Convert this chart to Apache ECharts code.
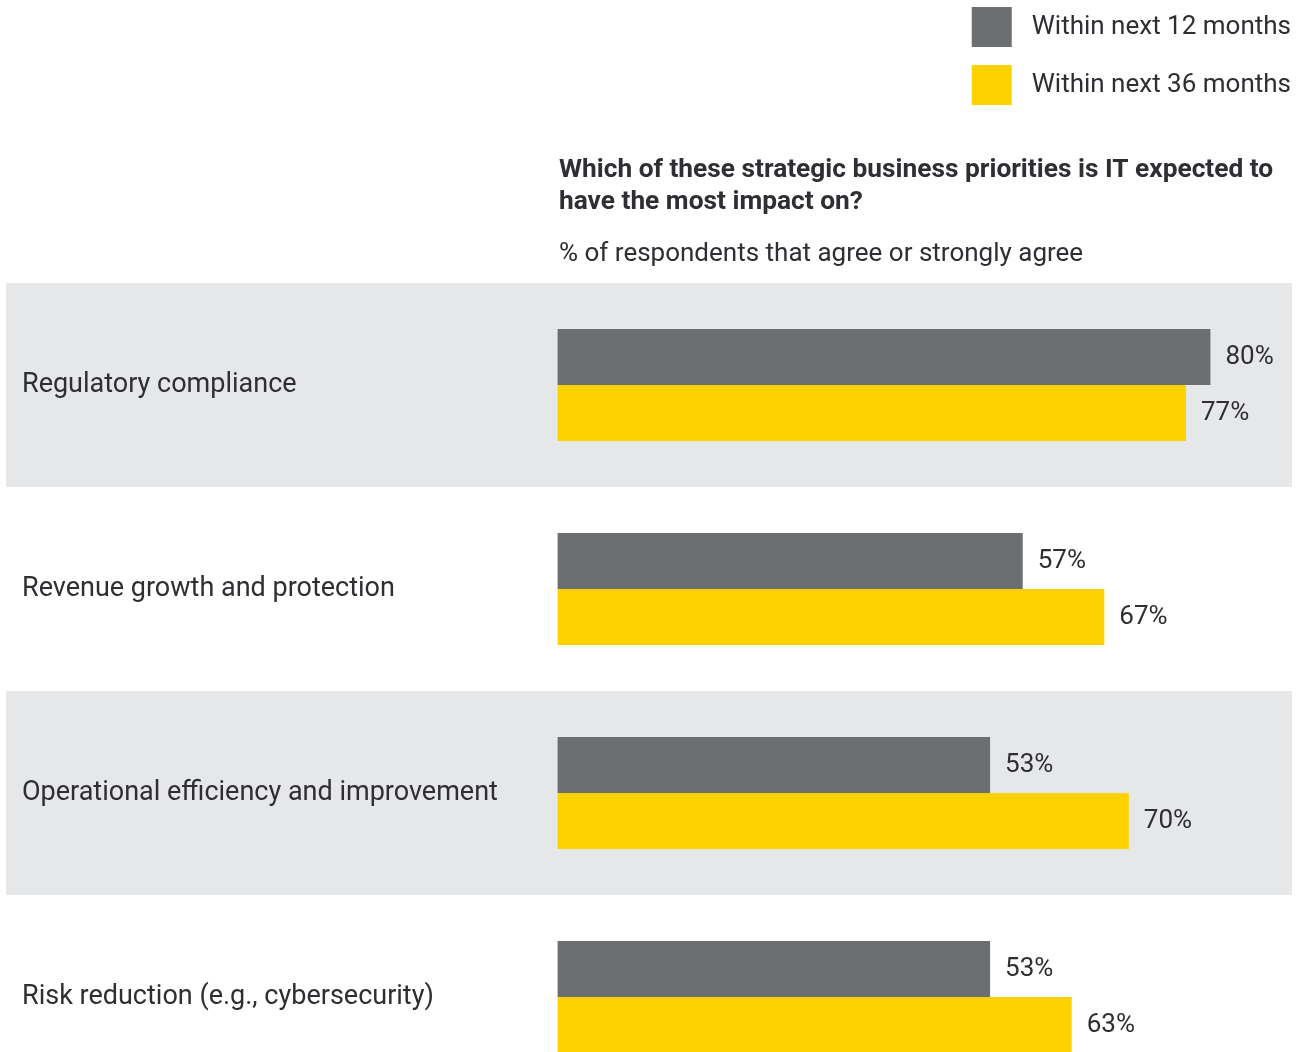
<!DOCTYPE html>
<html>
<head>
<meta charset="utf-8">
<script src="https://cdn.jsdelivr.net/npm/echarts@6/dist/echarts.min.js"></script>
<style>
  html, body { margin: 0; padding: 0; background: #ffffff; overflow: hidden; }
  /* last row runs past the bottom edge of the page, so the canvas is taller than the view */
  #chart { width: 1299px; height: 1099px; }
</style>
</head>
<body>
<div id="chart"></div>
<script>
// Business priorities surveyed
const categories = [
  'Regulatory compliance',
  'Revenue growth and protection',
  'Operational efficiency and improvement',
  'Risk reduction (e.g., cybersecurity)'
];
// % of respondents that agree or strongly agree
const next12Months = [80, 57, 53, 53];
const next36Months = [77, 67, 70, 63];
const seriesNames = ['Within next 12 months', 'Within next 36 months'];

const FONT = 'Roboto, "Noto Sans", sans-serif';
const TEXT = '#2e2e33';

const chart = echarts.init(document.getElementById('chart'), null, { renderer: 'canvas' });

chart.setOption({
  animation: false,
  backgroundColor: '#ffffff',
  textStyle: { fontFamily: FONT },
  title: [
    {
      text: 'Which of these strategic business priorities is IT expected to\nhave the most impact on?',
      left: 559,
      top: 154,
      padding: 0,
      textStyle: { fontFamily: FONT, fontSize: 26.3, fontWeight: 'bold', color: TEXT, lineHeight: 32 }
    },
    {
      text: '% of respondents that agree or strongly agree',
      left: 559,
      top: 239,
      padding: 0,
      textStyle: { fontFamily: FONT, fontSize: 26, fontWeight: 'normal', color: TEXT, lineHeight: 30 }
    }
  ],
  legend: {
    orient: 'vertical',
    right: 8,
    top: 7,
    padding: 0,
    itemWidth: 40,
    itemHeight: 40,
    itemGap: 18,
    icon: 'rect',
    textStyle: { fontFamily: FONT, fontSize: 26, color: TEXT, padding: [0, 0, 0, 15] },
    data: seriesNames
  },
  grid: {
    left: 6,
    right: 7,
    top: 283,
    bottom: 0,
    containLabel: false
  },
  xAxis: {
    type: 'value',
    min: -67.6,
    max: 90,
    show: false,
    splitLine: { show: false }
  },
  yAxis: {
    type: 'category',
    data: categories,
    inverse: true,
    axisLine: { show: false },
    axisTick: { show: false },
    axisLabel: {
      inside: true,
      margin: 16,
      padding: [6, 0, 0, 0],
      fontFamily: FONT,
      fontSize: 27,
      color: TEXT
    },
    splitArea: {
      show: true,
      areaStyle: { color: ['#e6e7e8', 'rgba(255,255,255,0)'] }
    }
  },
  series: [
    {
      name: seriesNames[0],
      type: 'bar',
      data: next12Months,
      barWidth: 56,
      barGap: '0%',
      itemStyle: { color: '#6d6e71' },
      label: {
        show: true,
        position: 'right',
        distance: 15,
        padding: [4, 0, 0, 0],
        formatter: '{c}%',
        fontFamily: FONT,
        fontSize: 26,
        color: TEXT
      }
    },
    {
      name: seriesNames[1],
      type: 'bar',
      data: next36Months,
      barWidth: 56,
      barGap: '0%',
      itemStyle: { color: '#fdd200' },
      label: {
        show: true,
        position: 'right',
        distance: 15,
        padding: [4, 0, 0, 0],
        formatter: '{c}%',
        fontFamily: FONT,
        fontSize: 26,
        color: TEXT
      }
    }
  ]
});
</script>
</body>
</html>
